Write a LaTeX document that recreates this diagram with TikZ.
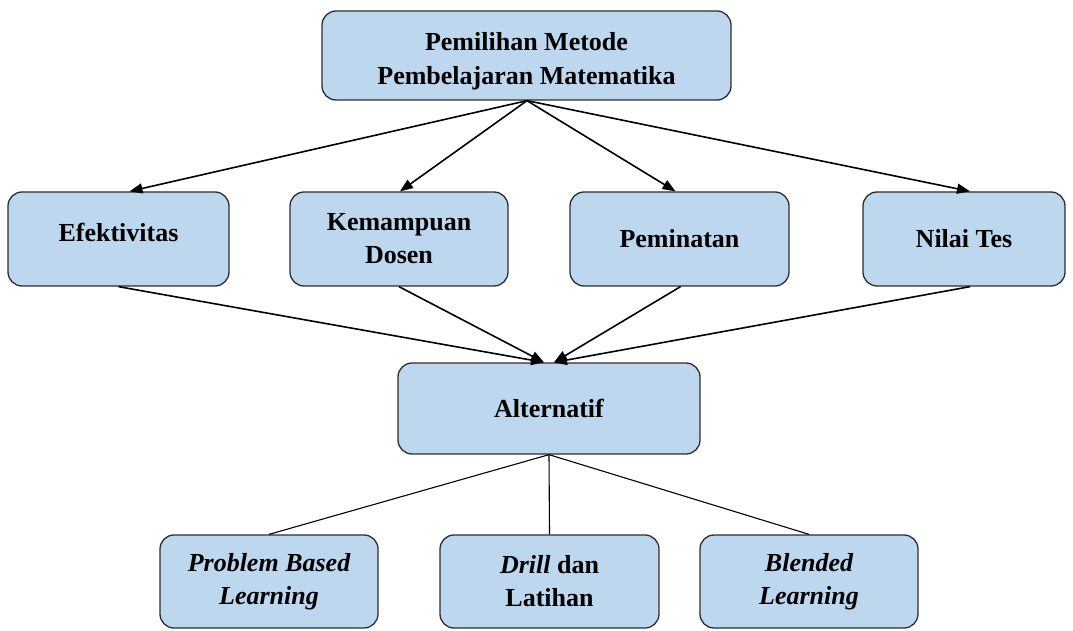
\documentclass[tikz,border=0pt]{standalone}
\usepackage{fontspec}
\setmainfont{Liberation Serif}[BoldFont={Liberation Serif Bold},BoldItalicFont={Liberation Serif Bold Italic}]
\newfontfamily\tnr{Liberation Serif}[BoldFont={Liberation Serif Bold},BoldItalicFont={Liberation Serif Bold Italic}]
\usetikzlibrary{arrows.meta}
\definecolor{boxfill}{RGB}{189,215,238}
\definecolor{boxline}{RGB}{45,45,45}
\begin{document}
\begin{tikzpicture}[x=1pt,y=-1pt,
  box/.style={draw=boxline, line width=1.3pt, fill=boxfill, rounded corners=14pt,
    align=center, inner sep=0pt, font=\tnr\fontsize{26}{33}\selectfont\bfseries},
  arr/.style={line width=1.6pt, -{Triangle[length=13pt,width=10pt]}},
  link/.style={line width=1.1pt}]
\useasboundingbox (0,0) rectangle (1073,631);
\node[box, minimum width=409pt, minimum height=89pt] (top) at (526.5,55.5) {};
\node[font=\tnr\fontsize{26}{34}\selectfont\bfseries, align=center, inner sep=0pt] (toptext) at (526.5,61) {Pemilihan Metode\\Pembelajaran Matematika};
\node[box, minimum width=221pt, minimum height=94pt] (efe) at (118.5,239) {\raisebox{14pt}{Efektivitas}};
\node[box, minimum width=218pt, minimum height=94pt] (kem) at (399,239) {Kemampuan\\Dosen};
\node[box, minimum width=219pt, minimum height=94pt] (pem) at (679.5,239) {\raisebox{-2pt}{Peminatan}};
\node[box, minimum width=202pt, minimum height=94pt] (nil) at (964,239) {\raisebox{-2pt}{Nilai Tes}};
\node[box, minimum width=302pt, minimum height=91pt] (alt) at (549,408.5) {\raisebox{-2pt}{Alternatif}};
\node[box, minimum width=218pt, minimum height=93pt] (pbl) at (269,581.5) {\itshape Problem Based\\\itshape Learning};
\node[box, minimum width=219pt, minimum height=93pt] (dri) at (549.5,581.5) {\itshape Drill\/\upshape{} dan\\Latihan};
\node[box, minimum width=218pt, minimum height=93pt] (ble) at (809,581.5) {\itshape Blended\\\itshape Learning};
\coordinate (src) at ([xshift=0.5pt]top.south);
\draw[arr] (src) -- ([xshift=11pt]efe.north);
\draw[arr] (src) -- ([xshift=1pt]kem.north);
\draw[arr] (src) -- ([xshift=-4pt]pem.north);
\draw[arr] (src) -- ([xshift=6pt]nil.north);
\coordinate (inL) at ([xshift=-5pt]alt.north);
\coordinate (inR) at ([xshift=5pt]alt.north);
\draw[arr] (efe.south) -- (inL);
\draw[arr] (kem.south) -- (inL);
\draw[arr] ([xshift=1pt]pem.south) -- (inR);
\draw[arr] ([xshift=6pt]nil.south) -- (inR);
\draw[link] (alt.south) -- (pbl.north);
\draw[link] (alt.south) -- (dri.north);
\draw[link] (alt.south) -- (ble.north);
\end{tikzpicture}
\end{document}
